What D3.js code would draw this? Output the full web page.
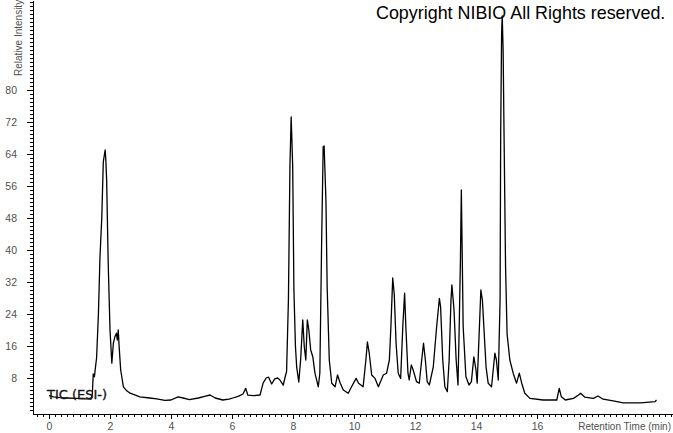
<!DOCTYPE html>
<html>
<head>
<meta charset="utf-8">
<script src="https://cdn.jsdelivr.net/npm/d3@7"></script>
<style>
  html, body { margin: 0; padding: 0; background: #fff; }
  svg { display: block; }
</style>
</head>
<body>
<div id="chart"></div>
<script>
// --- data (retention time in min, relative intensity) ---
const times = [
  0.00, 0.15, 0.35, 0.60, 0.90, 1.20, 1.38, 1.42, 1.45, 1.49, 1.52, 1.56, 1.62, 1.67, 1.73, 1.78,
  1.84, 1.86, 1.89, 1.94, 2.00, 2.06, 2.11, 2.16, 2.21, 2.24, 2.27, 2.30, 2.35, 2.44, 2.55, 2.66,
  2.98, 3.30, 3.53, 3.80, 4.00, 4.23, 4.40, 4.60, 4.90, 5.10, 5.28, 5.45, 5.70, 5.90, 6.03, 6.20,
  6.36, 6.45, 6.52, 6.70, 6.92, 7.02, 7.12, 7.20, 7.30, 7.40, 7.50, 7.57, 7.68, 7.75, 7.79, 7.85,
  7.90, 7.94, 7.99, 8.03, 8.08, 8.12, 8.19, 8.25, 8.32, 8.37, 8.42, 8.47, 8.52, 8.58, 8.65, 8.72,
  8.83, 8.88, 8.94, 8.99, 9.02, 9.08, 9.12, 9.19, 9.27, 9.38, 9.46, 9.55, 9.65, 9.81, 9.92, 10.07,
  10.15, 10.30, 10.39, 10.44, 10.50, 10.58, 10.69, 10.80, 10.96, 11.07, 11.16, 11.21, 11.27, 11.32, 11.38, 11.45,
  11.53, 11.60, 11.66, 11.70, 11.77, 11.81, 11.88, 11.94, 12.05, 12.14, 12.22, 12.28, 12.34, 12.40, 12.47, 12.60,
  12.71, 12.80, 12.84, 12.91, 12.98, 13.06, 13.12, 13.18, 13.21, 13.28, 13.35, 13.41, 13.45, 13.49, 13.52, 13.58,
  13.67, 13.77, 13.85, 13.93, 14.00, 14.04, 14.16, 14.21, 14.33, 14.40, 14.51, 14.62, 14.67, 14.73, 14.79, 14.81,
  14.84, 14.86, 14.89, 14.92, 14.97, 15.02, 15.11, 15.22, 15.33, 15.42, 15.50, 15.60, 15.77, 16.20, 16.65, 16.73,
  16.80, 16.93, 17.20, 17.36, 17.43, 17.57, 17.85, 18.00, 18.17, 18.50, 18.83, 19.40, 19.87, 19.92
];
const intensity = [
  3.6, 3.3, 3.1, 3.0, 2.9, 2.8, 2.7, 4.0, 9.0, 8.3, 10.5, 13, 24, 38, 48, 62,
  65, 63, 57.5, 37, 20, 11.7, 16.7, 18.3, 19.2, 17.5, 20, 15.8, 10, 5.8, 4.8, 4.2,
  3.3, 3.0, 2.8, 2.4, 2.5, 3.3, 3.0, 2.6, 3.0, 3.4, 3.75, 3.0, 2.5, 2.7, 3.0, 3.4,
  4.0, 5.4, 3.7, 3.6, 3.75, 6.7, 8.0, 8.2, 6.5, 7.8, 8.0, 7.5, 6.2, 8.5, 9.6, 27.5,
  61, 73.3, 61, 30, 16, 10.8, 7, 12.5, 22.5, 15.8, 12.5, 22.5, 20, 15, 13.3, 9.2,
  5.8, 9.2, 42.5, 65.8, 66, 52.5, 30.8, 12.5, 6.7, 5.8, 8.75, 6.7, 5.0, 4.2, 5.8, 7.9,
  6.7, 5.8, 12.5, 17, 14.2, 8.75, 7.9, 5.8, 8.75, 9.2, 12.5, 20.8, 33, 29, 16.7, 9.2,
  7.9, 20.8, 29.2, 20.8, 9.2, 7.5, 11.25, 10, 7.1, 6.7, 12.5, 16.7, 12.5, 7.1, 6.25, 10.8,
  20.8, 27.9, 25.8, 12.5, 5.8, 4.6, 12.5, 27.5, 31.3, 25, 12.5, 6.25, 20.8, 37.5, 55, 20.8,
  8.3, 6.25, 7.1, 13.3, 10, 6.7, 30, 27.5, 10.8, 6.7, 5.8, 14.2, 12.5, 7.5, 27.5, 69,
  94, 98.5, 90, 69, 35.8, 19, 12.5, 9.2, 6.7, 9.2, 6.7, 4.2, 2.9, 2.5, 2.5, 5.4,
  3.3, 2.5, 2.9, 3.75, 4.2, 3.2, 2.9, 3.5, 2.7, 2.3, 1.8, 1.8, 2.1, 2.5
];

// tick labels
const xTickLabels = [0, 2, 4, 6, 8, 10, 12, 14, 16];
const yTickLabels = [8, 16, 24, 32, 40, 48, 56, 64, 72, 80];

const W = 673, H = 433;

const svg = d3.select("#chart")
  .append("svg")
  .attr("width", W)
  .attr("height", H);

// --- scales ---
const x = d3.scaleLinear()
  .domain([-0.525, 20.46])
  .range([33, 673]);

const y = d3.scaleLinear()
  .domain([-1, 102.5])
  .range([414, 0]);

const axisColor = "#000";
const labelColor = "#505050";
const axisFont = "Arial, 'Liberation Sans', sans-serif";

// --- y axis: minor ticks every 1, labelled ticks every 8 ---
svg.append("g")
  .attr("transform", "translate(33,0)")
  .call(d3.axisLeft(y).tickValues(d3.range(0, 103, 1)).tickSize(3).tickSizeOuter(0).tickFormat(""));

const yMajor = svg.append("g")
  .attr("transform", "translate(33,0)")
  .call(d3.axisLeft(y).tickValues(yTickLabels).tickSize(6).tickPadding(10).tickFormat(d3.format("d")));
yMajor.select(".domain").remove();

// --- x axis: minor ticks every 0.2 min, labelled every 2 ---
svg.append("g")
  .attr("transform", "translate(0,414)")
  .call(d3.axisBottom(x).tickValues(d3.range(-0.4, 20.45, 0.2)).tickSize(3).tickSizeOuter(0).tickFormat(""));

const xMajor = svg.append("g")
  .attr("transform", "translate(0,414)")
  .call(d3.axisBottom(x).tickValues(xTickLabels).tickSize(5).tickPadding(4).tickFormat(d3.format("d")));
xMajor.select(".domain").remove();

svg.selectAll(".domain, .tick line")
  .attr("stroke", axisColor)
  .attr("stroke-width", 1)
  .attr("shape-rendering", "crispEdges");

svg.selectAll(".tick text")
  .attr("fill", labelColor)
  .style("font-family", axisFont)
  .style("font-size", "10.5px");

// axis titles
svg.append("text")
  .attr("transform", "translate(22,76) rotate(-90)")
  .attr("text-anchor", "start")
  .attr("fill", labelColor)
  .style("font-family", axisFont)
  .style("font-size", "10px")
  .text("Relative Intensity");

svg.append("text")
  .attr("x", 671)
  .attr("y", 430)
  .attr("text-anchor", "end")
  .attr("fill", labelColor)
  .style("font-family", axisFont)
  .style("font-size", "10px")
  .text("Retention Time (min)");

// --- the TIC trace ---
const pts = times.map((t, i) => [t, intensity[i]]);

svg.append("path")
  .datum(pts)
  .attr("fill", "none")
  .attr("stroke", "#000")
  .attr("stroke-width", 1.3)
  .attr("stroke-linejoin", "round")
  .attr("d", d3.line().x(d => x(d[0])).y(d => y(d[1])));

// trace label
svg.append("text")
  .attr("x", 47)
  .attr("y", 399)
  .attr("fill", "#151515")
  .attr("stroke", "#151515")
  .attr("stroke-width", 0.35)
  .style("font-family", "'DejaVu Sans', sans-serif")
  .style("font-size", "13px")
  .text("TIC (ESI-)");

// copyright note
svg.append("text")
  .attr("x", 376)
  .attr("y", 19)
  .attr("fill", "#000")
  .style("font-family", "Arial, 'Liberation Sans', sans-serif")
  .style("font-size", "17.9px")
  .text("Copyright NIBIO All Rights reserved.");
</script>
</body>
</html>
